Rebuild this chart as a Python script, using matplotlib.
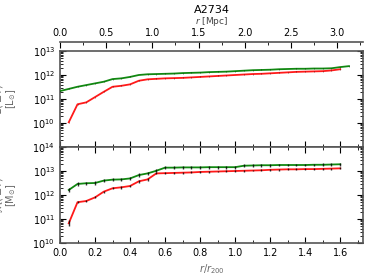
import numpy as np
import matplotlib
matplotlib.use("Agg")
import matplotlib.pyplot as plt
from matplotlib.ticker import MultipleLocator, LogLocator, NullFormatter

# ---- data (log10 values) ----
x_top_green = [0.00, 0.05, 0.10, 0.15, 0.20, 0.25, 0.30, 0.35, 0.40, 0.45, 0.50, 0.55,
               0.60, 0.65, 0.70, 0.75, 0.80, 0.85, 0.90, 0.95, 1.00, 1.05, 1.10, 1.15,
               1.20, 1.25, 1.30, 1.35, 1.40, 1.45, 1.50, 1.55, 1.60, 1.65]
logL_green = [11.33, 11.42, 11.51, 11.58, 11.65, 11.72, 11.83, 11.86, 11.92, 12.00, 12.03, 12.04,
              12.05, 12.06, 12.08, 12.09, 12.10, 12.12, 12.13, 12.14, 12.16, 12.18, 12.20, 12.21,
              12.22, 12.24, 12.25, 12.26, 12.26, 12.27, 12.27, 12.28, 12.33, 12.37]

x_top_red = [0.05, 0.10, 0.15, 0.20, 0.25, 0.30, 0.35, 0.40, 0.45, 0.50, 0.55, 0.60,
             0.65, 0.70, 0.75, 0.80, 0.85, 0.90, 0.95, 1.00, 1.05, 1.10, 1.15, 1.20,
             1.25, 1.30, 1.35, 1.40, 1.45, 1.50, 1.55, 1.60]
logL_red = [10.03, 10.78, 10.86, 11.08, 11.30, 11.51, 11.55, 11.61, 11.76, 11.82, 11.84, 11.86,
            11.87, 11.88, 11.90, 11.92, 11.94, 11.96, 11.98, 12.00, 12.02, 12.04, 12.05, 12.07,
            12.09, 12.11, 12.13, 12.14, 12.15, 12.16, 12.19, 12.24]

x_bot = [0.05, 0.10, 0.15, 0.20, 0.25, 0.30, 0.35, 0.40, 0.45, 0.50, 0.55, 0.60,
         0.65, 0.70, 0.75, 0.80, 0.85, 0.90, 0.95, 1.00, 1.05, 1.10, 1.15, 1.20,
         1.25, 1.30, 1.35, 1.40, 1.45, 1.50, 1.55, 1.60]
logM_green = [12.21, 12.46, 12.49, 12.50, 12.60, 12.64, 12.65, 12.69, 12.83, 12.90, 13.01, 13.14,
              13.14, 13.15, 13.15, 13.15, 13.16, 13.16, 13.16, 13.16, 13.22, 13.23, 13.24, 13.24,
              13.25, 13.25, 13.25, 13.25, 13.26, 13.26, 13.27, 13.28]
errM_green = [0.10, 0.07, 0.07, 0.07, 0.07, 0.07, 0.07, 0.07, 0.07, 0.07, 0.06, 0.06,
              0.06, 0.06, 0.06, 0.06, 0.06, 0.06, 0.06, 0.06, 0.06, 0.06, 0.06, 0.06,
              0.06, 0.05, 0.05, 0.05, 0.05, 0.06, 0.07, 0.07]
logM_red = [10.82, 11.70, 11.75, 11.90, 12.14, 12.28, 12.32, 12.375, 12.57, 12.65, 12.90, 12.91,
            12.92, 12.93, 12.94, 12.96, 12.97, 12.98, 12.99, 13.00, 13.01, 13.02, 13.03, 13.05,
            13.06, 13.07, 13.07, 13.08, 13.08, 13.09, 13.10, 13.11]
errM_red = [0.12, 0.04, 0.05, 0.04, 0.04, 0.04, 0.05, 0.05, 0.05, 0.05, 0.04, 0.04,
            0.04, 0.04, 0.04, 0.04, 0.04, 0.04, 0.04, 0.04, 0.04, 0.04, 0.04, 0.04,
            0.04, 0.04, 0.04, 0.04, 0.04, 0.04, 0.04, 0.04]

xmax_r200 = 1.73
xmax_mpc = 3.28
title = "A2734"

GREEN = "#118811"
RED = "#ff1a1a"
SPINE = "#555555"
LBL = "#666666"

plt.rcParams['font.family'] = ['DejaVu Sans']
plt.rcParams['mathtext.fontset'] = 'dejavusans'

fig = plt.figure(figsize=(3.74, 2.80), dpi=100)
L, R = 60/374, 363/374
ax1 = fig.add_axes([L, 1-147/280, R-L, (147-51)/280])
ax2 = fig.add_axes([L, 1-243/280, R-L, (243-147)/280])

def lin(v):
    return [10**a for a in v]

def errs(v, e):
    lo = [10**a - 10**(a-b) for a, b in zip(v, e)]
    hi = [10**(a+b) - 10**a for a, b in zip(v, e)]
    return [lo, hi]

ax1.plot(x_top_green, lin(logL_green), color=GREEN, lw=1.3, zorder=3)
ax1.plot(x_top_red, lin(logL_red), color=RED, lw=1.3, zorder=3)
ax1.errorbar(x_top_green, lin(logL_green), yerr=errs(logL_green, [0.02]*len(logL_green)),
             fmt='none', ecolor='k', elinewidth=0.6, alpha=0.5, zorder=4)
ax1.errorbar(x_top_red, lin(logL_red), yerr=errs(logL_red, [0.02]*len(logL_red)),
             fmt='none', ecolor='k', elinewidth=0.6, alpha=0.5, zorder=4)

ax2.plot(x_bot, lin(logM_green), color=GREEN, lw=1.3, zorder=3)
ax2.plot(x_bot, lin(logM_red), color=RED, lw=1.3, zorder=3)
ax2.errorbar(x_bot, lin(logM_green), yerr=errs(logM_green, errM_green), fmt='none',
             ecolor='k', elinewidth=1.0, alpha=0.8, zorder=4)
ax2.errorbar(x_bot, lin(logM_red), yerr=errs(logM_red, errM_red), fmt='none',
             ecolor='k', elinewidth=1.0, alpha=0.8, zorder=4)

ax1.set_ylim(1e9, 1e13)
ax2.set_ylim(1e10, 1e14)
for ax in (ax1, ax2):
    ax.set_yscale('log')
    ax.set_xlim(0, xmax_r200)
    ax.xaxis.set_major_locator(MultipleLocator(0.2))
    ax.xaxis.set_minor_locator(MultipleLocator(0.1))
    ax.yaxis.set_major_locator(LogLocator(base=10, numticks=10))
    ax.yaxis.set_minor_locator(LogLocator(base=10, subs=np.arange(2, 10), numticks=10))
    ax.yaxis.set_minor_formatter(NullFormatter())
    ax.tick_params(which='both', direction='in', top=True, right=True, labelsize=7, colors='k')
    ax.tick_params(which='major', length=4, width=0.8)
    ax.tick_params(which='minor', length=2, width=0.6)
    for s in ax.spines.values():
        s.set_color(SPINE)
        s.set_linewidth(1.2)

ax1.set_yticks([1e10, 1e11, 1e12, 1e13])
ax1.tick_params(labelbottom=False)
ax2.set_yticks([1e10, 1e11, 1e12, 1e13, 1e14])

ax1.set_ylabel(r"$L(\leq r)$" + "\n" + r"[L$_{\odot}$]", fontsize=7, color=LBL,
               linespacing=0.9)
ax2.set_ylabel(r"$\mathcal{M}(\leq r)$" + "\n" + r"[M$_{\odot}$]", fontsize=7, color=LBL,
               linespacing=0.9)
ax1.yaxis.set_label_coords(-0.138, 0.5)
ax2.yaxis.set_label_coords(-0.138, 0.5)
ax2.set_xlabel(r"$r/r_{200}$", fontsize=7, color=LBL, labelpad=3)

ax3 = ax1.twiny()
ax3.set_xlim(0, xmax_mpc)
ax3.spines['top'].set_position(('outward', 6.5))
ax3.spines['top'].set_color(SPINE)
ax3.spines['top'].set_linewidth(1.2)
for k in ('left', 'right', 'bottom'):
    ax3.spines[k].set_visible(False)
ax3.xaxis.set_major_locator(MultipleLocator(0.5))
ax3.xaxis.set_minor_locator(MultipleLocator(0.25))
ax3.tick_params(which='both', direction='in', labelsize=7, colors='k')
ax3.tick_params(which='major', length=4, width=0.8, pad=3.0)
ax3.tick_params(which='minor', length=2, width=0.6)
ax3.set_xlabel(r"$r$ [Mpc]", fontsize=6.5, color='#444444', labelpad=2.6)

fig.text((L + R) / 2, 1 - 10/280, title, fontsize=8, ha='center', va='center')

fig.savefig("out.png", dpi=100)
